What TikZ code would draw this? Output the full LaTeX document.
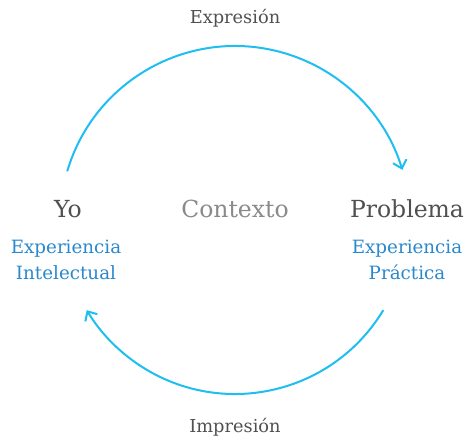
\documentclass[tikz,border=0pt]{standalone}
\usepackage{fontspec}
\setmainfont{DejaVu Serif}
\usetikzlibrary{arrows.meta}
\definecolor{arc}{HTML}{1EBEF0}
\definecolor{dark}{HTML}{505050}
\definecolor{light}{HTML}{8A8A8A}
\definecolor{blu}{HTML}{2A88CC}
\begin{document}
\begin{tikzpicture}[x=1pt,y=-1pt,
  lbl/.style={inner sep=0pt,anchor=base,text=dark,font=\fontsize{17.8}{19}\selectfont},
  big/.style={inner sep=0pt,anchor=base,text=dark,font=\fontsize{23.5}{26}\selectfont},
  sub/.style={inner sep=0pt,anchor=base,text=blu,font=\fontsize{18.3}{20}\selectfont},
  flow/.style={draw=arc,line width=2pt,-{Straight Barb[length=7.5pt,width=14pt,line width=2pt]}}]
\useasboundingbox (0,0) rectangle (468,441);
\node[lbl] (expr) at (235,24) {Expresión};
\node[lbl] (impr) at (235,432) {Impresión};
\node[big] (yo) at (68,217) {Yo};
\node[big,text=light] (ctx) at (235,217) {Contexto};
\node[big] (prob) at (407,217) {Problema};
\node[sub] (exi1) at (66,253) {Experiencia};
\node[sub] (exi2) at (66,279) {Intelectual};
\node[sub] (exp1) at (407,253) {Experiencia};
\node[sub] (exp2) at (407,279) {Práctica};
\coordinate (c) at (235,221);
\draw[flow] ([shift={(-163.5:175)}]c) arc[start angle=-163.5,end angle=-17,radius=175];
\draw[flow] ([shift={(31:173)}]c) arc[start angle=31,end angle=149,radius=173];
\end{tikzpicture}
\end{document}
